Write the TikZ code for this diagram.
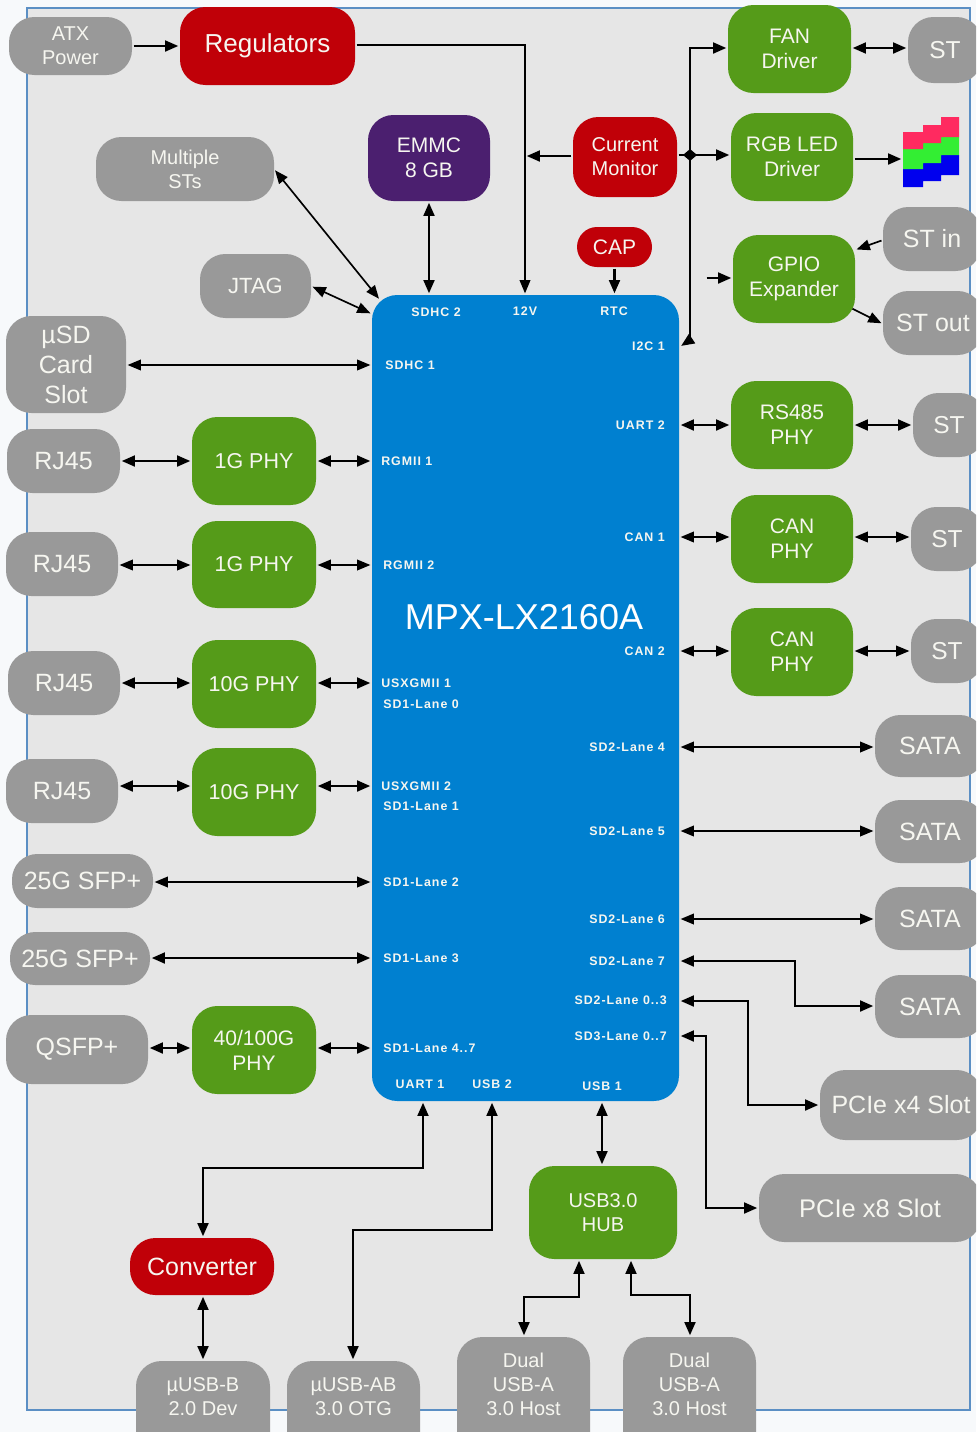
\documentclass[tikz,border=0pt]{standalone}
\usepackage{fontspec}
\setmainfont{Liberation Sans}
\newfontfamily\pinfont[LetterSpace=8]{Liberation Sans Bold}
\usetikzlibrary{arrows.meta,calc}
\definecolor{pagebg}{HTML}{F7F9FB}
\definecolor{panelbg}{HTML}{E6E6E6}
\definecolor{panelline}{HTML}{5B8FC4}
\definecolor{greybox}{HTML}{999999}
\definecolor{greenbox}{HTML}{559B19}
\definecolor{redbox}{HTML}{C00008}
\definecolor{purplebox}{HTML}{4B1F6F}
\definecolor{chipblue}{HTML}{0080D0}
\definecolor{boxtext}{HTML}{F6F6F0}
\definecolor{ledred}{HTML}{FF2A60}
\definecolor{ledgreen}{HTML}{33EE33}
\definecolor{ledblue}{HTML}{0000EE}
\tikzset{
  blk/.style={draw=none,text=boxtext,inner sep=0pt,outer sep=0pt,align=center,rounded corners=19pt},
  lnk/.style={line width=2.1pt,black,shorten >=1.2pt,shorten <=1.2pt},
  thn/.style={line width=1.25pt,black,shorten >=1.2pt,shorten <=1.2pt},
  one/.style={-{Triangle[length=10pt,width=8pt]}},
  two/.style={{Triangle[length=10pt,width=8pt]}-{Triangle[length=10pt,width=8pt]}},
  pin/.style={text=boxtext,font=\pinfont\fontsize{9.3}{10}\selectfont,inner sep=0pt},
}
% options, name, x0, x1, y0, y1, fill, font size px, text
\newcommand{\bx}[9][]{%
  \pgfmathsetmacro\bxw{(#4-#3)*0.75}%
  \pgfmathsetmacro\bxh{(#6-#5)*0.75}%
  \pgfmathsetmacro\bxf{#8*0.75}%
  \pgfmathsetmacro\bxl{#8*0.9}%
  \node[blk,fill=#7,minimum width=\bxw pt,minimum height=\bxh pt,#1,
    font=\fontsize{\bxf}{\bxl}\selectfont] (#2) at ({(#3+#4)/2},{(#5+#6)/2}) {#9};}
\begin{document}
\begin{tikzpicture}[x=0.75pt,y=-0.75pt]
\path[use as bounding box,clip] (0,0) rectangle (976,1432);
\fill[pagebg] (0,0) rectangle (976,1432);
\filldraw[fill=panelbg,draw=panelline,line width=1.5pt] (27,8) rectangle (970,1410);

% LED stairs
\fill[ledblue] (903,169) -- (923,169) -- (923,163) -- (941,163) -- (941,155) -- (959,155) -- (959,175) -- (941,175) -- (941,181) -- (923,181) -- (923,187) -- (903,187) -- cycle;
\fill[ledgreen] (903,149) -- (923,149) -- (923,143) -- (941,143) -- (941,137) -- (959,137) -- (959,155) -- (941,155) -- (941,163) -- (923,163) -- (923,169) -- (903,169) -- cycle;
\fill[ledred] (903,132) -- (923,132) -- (923,125) -- (941,125) -- (941,117) -- (959,117) -- (959,137) -- (941,137) -- (941,143) -- (923,143) -- (923,149) -- (903,149) -- cycle;
\coordinate (led) at (903,159);

% boxes
\bx{atx}{9}{132}{17}{75}{greybox}{20}{ATX\\Power}
\bx{reg}{180}{355}{7}{85}{redbox}{26}{Regulators}
\bx{multi}{96}{274}{137}{201}{greybox}{20}{Multiple\\STs}
\bx{jtag}{200}{311}{254}{318}{greybox}{22}{JTAG}
\bx{emmc}{368}{490}{115}{201}{purplebox}{21}{EMMC\\8 GB}
\bx{cmon}{573}{677}{117}{197}{redbox}{20}{Current\\Monitor}
\bx[rounded corners=15pt]{cap}{577}{652}{227}{267}{redbox}{21}{CAP}
\bx{fan}{728}{851}{5}{93}{greenbox}{21}{FAN\\Driver}
\bx{rgb}{731}{853}{113}{201}{greenbox}{21}{RGB LED\\Driver}
\bx{gpio}{733}{855}{235}{323}{greenbox}{21}{GPIO\\Expander}
\bx{stfan}{908}{982}{17}{83}{greybox}{24.5}{ST}
\bx{stin}{883}{981}{207}{271}{greybox}{25}{ST in}
\bx{stout}{883}{983}{291}{355}{greybox}{25}{ST out}
\bx{rs}{731}{853}{381}{469}{greenbox}{21}{RS485\\PHY}
\bx{strs}{913}{985}{393}{457}{greybox}{24.5}{ST}
\bx{can1}{731}{853}{495}{583}{greenbox}{21}{CAN\\PHY}
\bx{stc1}{911}{983}{507}{571}{greybox}{24.5}{ST}
\bx{can2}{731}{853}{608}{696}{greenbox}{21}{CAN\\PHY}
\bx{stc2}{911}{983}{619}{683}{greybox}{24.5}{ST}
\bx{sata1}{875}{985}{715}{777}{greybox}{25}{SATA}
\bx{sata2}{875}{985}{800}{863}{greybox}{25}{SATA}
\bx{sata3}{875}{985}{887}{950}{greybox}{25}{SATA}
\bx{sata4}{875}{985}{975}{1038}{greybox}{25}{SATA}
\bx{pcie4}{820}{982}{1070}{1140}{greybox}{25}{PCIe x4 Slot}
\bx{pcie8}{759}{981}{1174}{1242}{greybox}{25.5}{PCIe x8 Slot}
\bx{usd}{6}{126}{316}{413}{greybox}{25}{µSD\\Card\\Slot}
\bx{rj1}{7}{120}{429}{493}{greybox}{25}{RJ45}
\bx{rj2}{6}{118}{532}{596}{greybox}{25}{RJ45}
\bx{rj3}{8}{120}{651}{715}{greybox}{25}{RJ45}
\bx{rj4}{6}{118}{759}{823}{greybox}{25}{RJ45}
\bx{ph1}{192}{316}{417}{505}{greenbox}{21.5}{1G PHY}
\bx{ph2}{192}{316}{521}{608}{greenbox}{21.5}{1G PHY}
\bx{ph3}{192}{316}{640}{728}{greenbox}{21.5}{10G PHY}
\bx{ph4}{192}{316}{748}{836}{greenbox}{21.5}{10G PHY}
\bx{sfp1}{12}{153}{854}{908}{greybox}{25}{25G SFP+}
\bx{sfp2}{10}{150}{932}{985}{greybox}{25}{25G SFP+}
\bx{qsfp}{6}{148}{1015}{1084}{greybox}{25}{QSFP+}
\bx{ph5}{192}{316}{1006}{1094}{greenbox}{21}{40/100G\\PHY}
\bx{chip}{372}{679}{295}{1101}{chipblue}{36}{}
\bx{hub}{529}{677}{1166}{1259}{greenbox}{20}{USB3.0\\HUB}
\bx{conv}{130}{274}{1238}{1295}{redbox}{25}{Converter}
\bx{ub}{136}{270}{1361}{1470}{greybox}{20}{µUSB-B\\2.0 Dev\\[10pt]}
\bx{uab}{287}{420}{1361}{1470}{greybox}{20}{µUSB-AB\\3.0 OTG\\[10pt]}
\bx{du1}{457}{590}{1337}{1470}{greybox}{20}{Dual\\USB-A\\3.0 Host\\[11pt]}
\bx{du2}{623}{756}{1337}{1470}{greybox}{20}{Dual\\USB-A\\3.0 Host\\[11pt]}

\node[text=white,inner sep=0pt,font=\fontsize{27}{30}\selectfont] (title) at (524,617) {MPX-LX2160A};

% pin labels
\node[pin,anchor=west] (lsd2) at (411,312) {SDHC 2};
\node[pin] (l12) at (525,311) {12V};
\node[pin] (lrtc) at (614,311) {RTC};
\node[pin,anchor=west] (lsd1) at (385,365) {SDHC 1};
\node[pin,anchor=west] (lrg1) at (381,461) {RGMII 1};
\node[pin,anchor=west] (lrg2) at (383,565) {RGMII 2};
\node[pin,anchor=west] (lus1) at (381,683) {USXGMII 1};
\node[pin,anchor=west] (ll0) at (383,704) {SD1-Lane 0};
\node[pin,anchor=west] (lus2) at (381,786) {USXGMII 2};
\node[pin,anchor=west] (ll1) at (383,806) {SD1-Lane 1};
\node[pin,anchor=west] (ll2) at (383,882) {SD1-Lane 2};
\node[pin,anchor=west] (ll3) at (383,958) {SD1-Lane 3};
\node[pin,anchor=west] (ll4) at (383,1048) {SD1-Lane 4..7};
\node[pin] (lu1) at (420,1084) {UART 1};
\node[pin] (lub2) at (492,1084) {USB 2};
\node[pin] (lub1) at (602,1086) {USB 1};
\node[pin,anchor=east] (li2c) at (665,346) {I2C 1};
\node[pin,anchor=east] (lu2) at (665,425) {UART 2};
\node[pin,anchor=east] (lc1) at (665,537) {CAN 1};
\node[pin,anchor=east] (lc2) at (665,651) {CAN 2};
\node[pin,anchor=east] (l24) at (665,747) {SD2-Lane 4};
\node[pin,anchor=east] (l25) at (665,831) {SD2-Lane 5};
\node[pin,anchor=east] (l26) at (665,919) {SD2-Lane 6};
\node[pin,anchor=east] (l27) at (665,961) {SD2-Lane 7};
\node[pin,anchor=east] (l20) at (667,1000) {SD2-Lane 0..3};
\node[pin,anchor=east] (l30) at (667,1036) {SD3-Lane 0..7};

% named routing points
\coordinate (kReg) at (525,45);
\coordinate (kCm) at (525,156);
\coordinate (kBusTop) at (690,48);
\coordinate (kBusBot) at (690,340);
\coordinate (kI2c) at (681,346);
\coordinate (kBusMid) at (690,155);
\coordinate (kGp) at (705,278);
\coordinate (kMs) at (380,300);
\coordinate (kJt) at (372,314);
\coordinate (kSin) at (883,240);
\coordinate (kGin) at (855,250);
\coordinate (kGout) at (851,308);
\coordinate (kSout) at (883,324);
\coordinate (k7) at (795,1006);
\coordinate (k0) at (748,1105);
\coordinate (k3) at (706,1208);
\coordinate (y7) at (0,961);
\coordinate (y0) at (0,1001);
\coordinate (y3) at (0,1036);

% connectors
\draw[lnk,one] (atx.east) -- (reg.west);
\draw[thn,one] (reg.east |- kReg) -- (kReg) -- (kReg |- chip.north);
\draw[lnk,one] (cmon.west |- kCm) -- (kCm);
\draw[lnk,one] (cmon.east |- kBusMid) -- (rgb.west |- kBusMid);
\fill[black] ($(kBusMid)+(-7,0)$) -- ($(kBusMid)+(0,-6)$) -- ($(kBusMid)+(7,0)$) -- ($(kBusMid)+(0,6)$) -- cycle;
\draw[lnk,two] (emmc.south) -- (emmc.south |- chip.north);
\draw[lnk,one] (cap.south) -- (cap.south |- chip.north);
\draw[thn,two] (multi.east) -- (kMs);
\draw[thn,two] (jtag.east) -- (kJt);
\draw[lnk,one,shorten <=0pt] (kBusBot) -- (kBusTop) -- (fan.west |- kBusTop);
\draw[lnk,one,shorten <=0pt,shorten >=0pt] (kBusBot) -- (kI2c);
\draw[lnk,two] (fan.east |- kBusTop) -- (stfan.west |- kBusTop);
\draw[lnk,one] (rgb.east |- led) -- (led);
\draw[lnk,one] (kGp) -- (gpio.west |- kGp);
\draw[thn,one] (kSin) -- (kGin);
\draw[thn,one] (kGout) -- (kSout);

\draw[thn,two] (usd.east |- lsd1) -- (chip.west |- lsd1);
\draw[lnk,two] (rj1.east |- lrg1) -- (ph1.west |- lrg1);
\draw[lnk,two] (ph1.east |- lrg1) -- (chip.west |- lrg1);
\draw[thn,two] (rj2.east |- lrg2) -- (ph2.west |- lrg2);
\draw[thn,two] (ph2.east |- lrg2) -- (chip.west |- lrg2);
\draw[lnk,two] (rj3.east |- lus1) -- (ph3.west |- lus1);
\draw[lnk,two] (ph3.east |- lus1) -- (chip.west |- lus1);
\draw[lnk,two] (rj4.east |- lus2) -- (ph4.west |- lus2);
\draw[lnk,two] (ph4.east |- lus2) -- (chip.west |- lus2);
\draw[thn,two] (sfp1.east |- ll2) -- (chip.west |- ll2);
\draw[lnk,two] (sfp2.east |- ll3) -- (chip.west |- ll3);
\draw[lnk,two] (qsfp.east |- ll4) -- (ph5.west |- ll4);
\draw[lnk,two] (ph5.east |- ll4) -- (chip.west |- ll4);

\draw[lnk,two] (chip.east |- lu2) -- (rs.west |- lu2);
\draw[lnk,two] (rs.east |- lu2) -- (strs.west |- lu2);
\draw[thn,two] (chip.east |- lc1) -- (can1.west |- lc1);
\draw[thn,two] (can1.east |- lc1) -- (stc1.west |- lc1);
\draw[thn,two] (chip.east |- lc2) -- (can2.west |- lc2);
\draw[thn,two] (can2.east |- lc2) -- (stc2.west |- lc2);
\draw[thn,two] (chip.east |- l24) -- (sata1.west |- l24);
\draw[thn,two] (chip.east |- l25) -- (sata2.west |- l25);
\draw[thn,two] (chip.east |- l26) -- (sata3.west |- l26);
\draw[lnk,two] (chip.east |- y7) -- (k7 |- y7) -- (k7) -- (sata4.west |- k7);
\draw[lnk,two] (chip.east |- y0) -- (k0 |- y0) -- (k0) -- (pcie4.west |- k0);
\draw[lnk,two] (chip.east |- y3) -- (k3 |- y3) -- (k3) -- (pcie8.west |- k3);

\coordinate (kU1) at (423,1168);
\coordinate (kU2) at (492,1230);
\coordinate (kCv) at (203,1168);
\coordinate (kAb) at (353,1230);
\coordinate (kH1) at (579,1297);
\coordinate (kH2) at (631,1295);
\coordinate (kD1) at (524,1297);
\coordinate (kD2) at (690,1295);
\coordinate (kUs) at (602,1133);
\draw[lnk,two] (kU1 |- chip.south) -- (kU1) -- (kCv) -- (kCv |- conv.north);
\draw[lnk,two] (kU2 |- chip.south) -- (kU2) -- (kAb) -- (kAb |- uab.north);
\draw[lnk,two] (kUs |- chip.south) -- (kUs |- hub.north);
\draw[lnk,two] (kCv |- conv.south) -- (kCv |- ub.north);
\draw[lnk,two] (kH1 |- hub.south) -- (kH1) -- (kD1) -- (kD1 |- du1.north);
\draw[lnk,two] (kH2 |- hub.south) -- (kH2) -- (kD2) -- (kD2 |- du2.north);
\end{tikzpicture}
\end{document}
